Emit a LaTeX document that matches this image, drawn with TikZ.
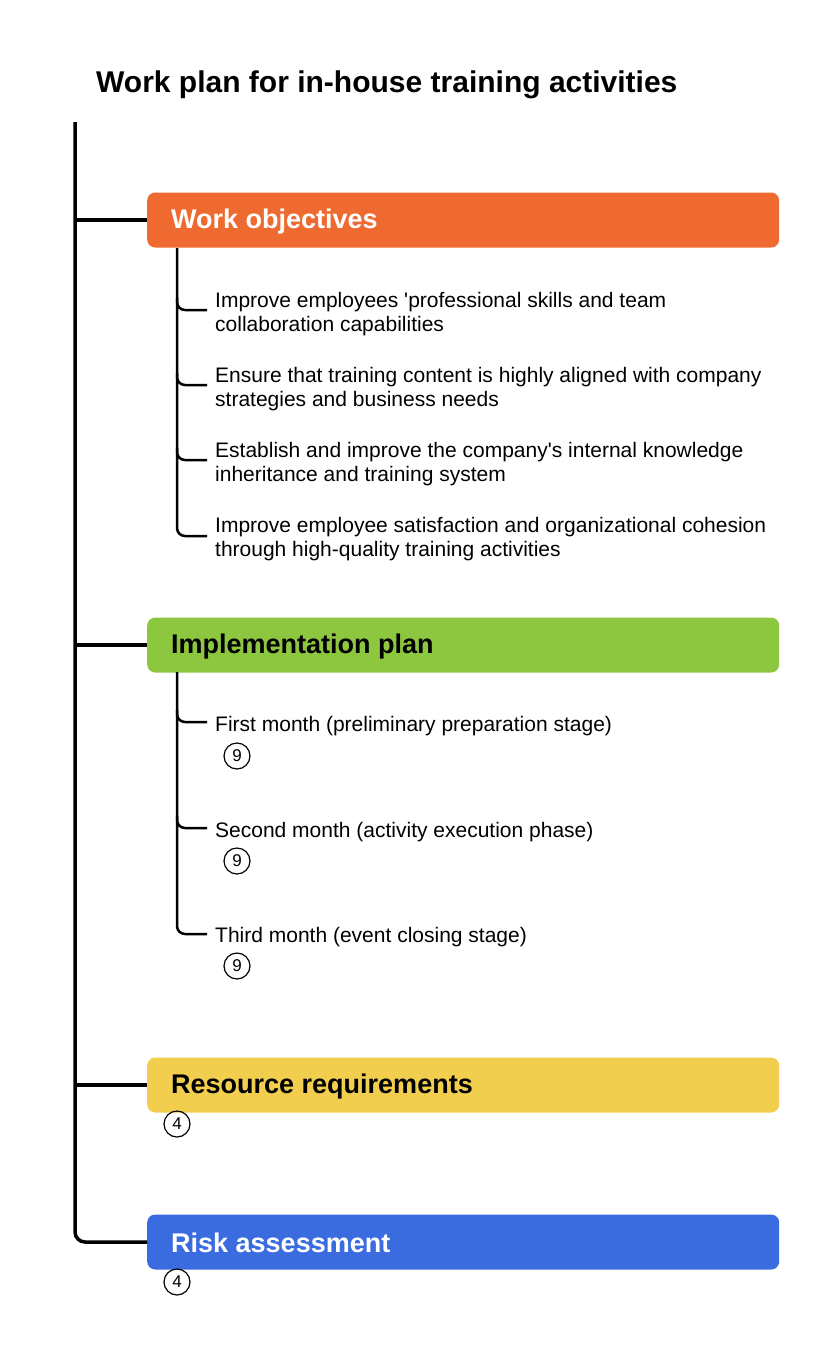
\documentclass[tikz,border=0pt]{standalone}
\usepackage{fontspec}
\setmainfont{Liberation Sans}
\definecolor{cO}{HTML}{EE6A30}
\definecolor{cG}{HTML}{8DC63F}
\definecolor{cY}{HTML}{F2CE4E}
\definecolor{cB}{HTML}{3A6CE0}
\newcommand{\sq}{\textquotesingle}
\begin{document}
\begin{tikzpicture}[x=1pt,y=-1pt,
  box/.style={rounded corners=8pt,minimum width=632pt,minimum height=55pt,anchor=west,inner sep=0pt},
  lab/.style={anchor=west,inner sep=0pt,font=\fontsize{27}{32}\selectfont\bfseries},
  item/.style={anchor=west,align=left,font=\fontsize{21}{24}\selectfont,inner sep=0pt},
  num/.style={circle,draw,line width=1.2pt,minimum size=26pt,inner sep=0pt,font=\fontsize{17}{17}\selectfont},
  trunk/.style={line width=3.5pt,rounded corners=10pt},
  sub/.style={line width=2.5pt,rounded corners=8pt}]
\useasboundingbox (0,0) rectangle (837,1358);
\node[anchor=west,inner sep=0pt,font=\fontsize{30}{34}\selectfont\bfseries] (title) at (96,85) {Work plan for in-house training activities};
\coordinate (top) at (75,122);
\node[box,fill=cO] (b1) at (147,220) {}; \node[lab,text=white] (l1) at (171,222) {Work objectives};
\node[box,fill=cG] (b2) at (147,645) {}; \node[lab] (l2) at (171,647) {Implementation plan};
\node[box,fill=cY] (b3) at (147,1085) {}; \node[lab] (l3) at (171,1087) {Resource requirements};
\node[box,fill=cB] (b4) at (147,1242) {}; \node[lab,text=white] (l4) at (171,1243) {Risk assessment};
\draw[trunk] (top) |- (b4.west);
\foreach \b in {b1,b2,b3} \draw[trunk] (75,0 |- \b.west) -- (\b.west);
% sub items
\node[item] (i1) at (215,314) {Improve employees \sq professional skills and team\\collaboration capabilities};
\node[item] (i2) at (215,389) {Ensure that training content is highly aligned with company\\strategies and business needs};
\node[item] (i3) at (215,464) {Establish and improve the company\sq s internal knowledge\\inheritance and training system};
\node[item] (i4) at (215,539) {Improve employee satisfaction and organizational cohesion\\through high-quality training activities};
\draw[sub] (177,248) |- (207,536);
\foreach \i/\y in {i1/310,i2/385,i3/460} \draw[sub] (177,\y-12) |- (207,\y);
\node[item] (j1) at (215,726) {First month (preliminary preparation stage)};
\node[item] (j2) at (215,832) {Second month (activity execution phase)};
\node[item] (j3) at (215,937) {Third month (event closing stage)};
\draw[sub] (177,672) |- (207,934);
\foreach \y in {722,828} \draw[sub] (177,\y-12) |- (207,\y);
\node[num] (n1) at (237,756) {9};
\node[num] (n2) at (237,861) {9};
\node[num] (n3) at (237,966) {9};
\node[num] (n4) at (177,1124) {4};
\node[num] (n5) at (177,1282) {4};
\end{tikzpicture}
\end{document}
